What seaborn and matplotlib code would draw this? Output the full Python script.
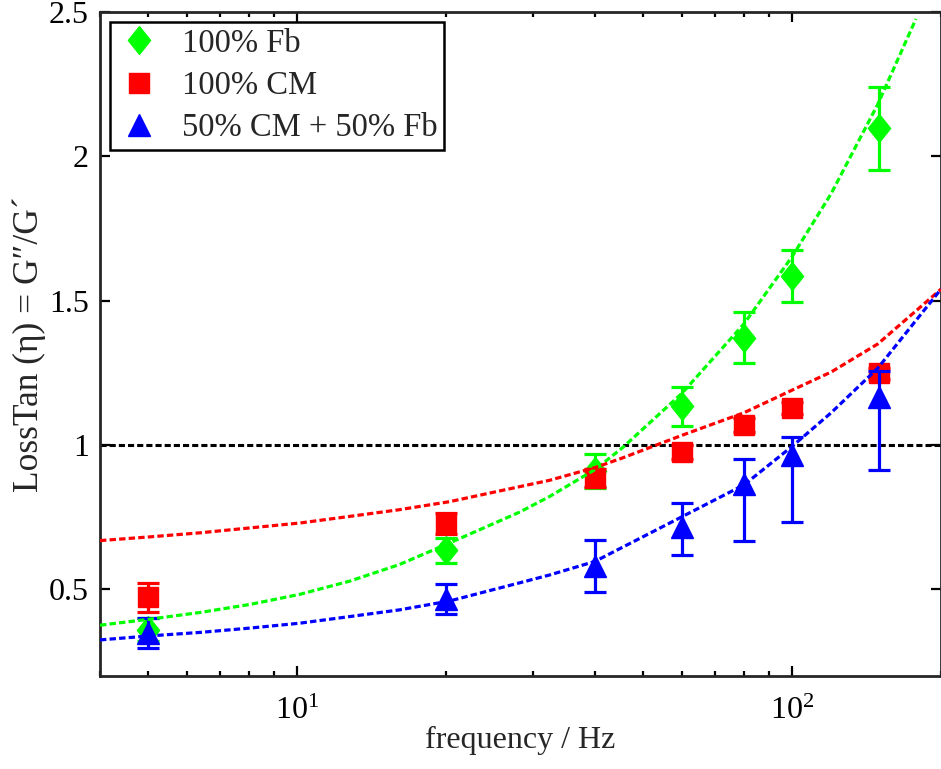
import numpy as np
import pandas as pd
import matplotlib
matplotlib.use("Agg")
import matplotlib.pyplot as plt
import seaborn as sns
from matplotlib.ticker import LogLocator, FixedLocator, NullFormatter

# ---------------- data ----------------
freq = [5, 20, 40, 60, 80, 100, 150]

fb = [0.36, 0.635, 0.91, 1.134, 1.372, 1.586, 2.097]
fb_err = [0.04, 0.042, 0.06, 0.067, 0.088, 0.09, 0.143]

cm = [0.472, 0.728, 0.886, 0.976, 1.069, 1.128, 1.248]
cm_err = [0.05, 0.035, 0.03, 0.025, 0.025, 0.02, 0.02]

mix = [0.35, 0.466, 0.581, 0.717, 0.865, 0.966, 1.165]
mix_err_lo = [0.053, 0.052, 0.091, 0.097, 0.196, 0.232, 0.25]
mix_err_hi = [0.05, 0.052, 0.091, 0.083, 0.087, 0.061, 0.09]

# fitted curves
fit_f_fb = [4.0, 5.05, 6.37, 8.04, 10.14, 12.8, 16.1, 20.35, 28.2, 32.4, 40,
            45.4, 60, 80, 100, 120, 149, 178]
fit_fb = [0.376, 0.397, 0.420, 0.448, 0.483, 0.529, 0.586, 0.661, 0.768, 0.822,
          0.915, 0.99, 1.18, 1.42, 1.652, 1.871, 2.18, 2.476]

fit_f_cm = [4.0, 5.05, 6.37, 8.04, 10.14, 12.8, 16.1, 20.35, 28.2, 32.4, 40,
            45.4, 60, 80, 100, 120, 149, 200]
fit_cm = [0.669, 0.682, 0.696, 0.713, 0.730, 0.753, 0.776, 0.804, 0.856, 0.878,
          0.922, 0.955, 1.034, 1.112, 1.19, 1.253, 1.35, 1.54]

fit_f_mix = [4.0, 5.05, 6.37, 8.04, 10.14, 12.8, 16.1, 20.35, 28.2, 32.4, 40,
             60, 80, 100, 120, 149, 200]
fit_mix = [0.325, 0.339, 0.351, 0.366, 0.383, 0.406, 0.429, 0.460, 0.523, 0.55,
           0.597, 0.752, 0.862, 0.995, 1.112, 1.266, 1.54]

labels = ["100% Fb", "100% CM", "50% CM + 50% Fb"]
colors = ["#00ff00", "#ff0000", "#0000ff"]

# ---------------- style ----------------
sns.set_style("ticks")
plt.rcParams["font.family"] = ["Liberation Serif", "DejaVu Serif"]
plt.rcParams["mathtext.fontset"] = "custom"
plt.rcParams["mathtext.rm"] = "Liberation Serif"
plt.rcParams["mathtext.it"] = "Liberation Serif:italic"
plt.rcParams["mathtext.bf"] = "Liberation Serif:bold"

fig = plt.figure(figsize=(9.41, 7.69), dpi=100)
ax = fig.add_axes([100 / 941, 1 - 676 / 769, 841 / 941, (676 - 12) / 769])

diamond = [(0, 1), (0.8, 0), (0, -1), (-0.8, 0), (0, 1)]
markers = [diamond, "s", "^"]
msizes = [20, 14, 16]

ys = [fb, cm, mix]
errs = [fb_err, cm_err, [mix_err_lo, mix_err_hi]]

DOT = (0, (2, 1))

# reference line at 1
ax.axhline(1.0, color="black", lw=2.2, ls=DOT, zorder=1)

handles = []
for y, e, c, m, s, lab in zip(ys, errs, colors, markers, msizes, labels):
    ax.errorbar(freq, y, yerr=e, fmt="none", ecolor=c, elinewidth=2.3,
                capsize=8, capthick=2.3, zorder=2)
    h, = ax.plot(freq, y, ls="none", marker=m, ms=s, color=c,
                 markeredgecolor=c, label=lab, zorder=2)
    handles.append(h)

df_fb = pd.DataFrame({"f": fit_f_fb, "y": fit_fb})
df_cm = pd.DataFrame({"f": fit_f_cm, "y": fit_cm})
df_mix = pd.DataFrame({"f": fit_f_mix, "y": fit_mix})
for d, c in zip([df_fb, df_cm, df_mix], colors):
    sns.lineplot(data=d, x="f", y="y", ax=ax, color=c, lw=2.3, ls=DOT,
                 zorder=3, legend=False, sort=True)

ax.set_xscale("log")
ax.set_xlim(4, 200)
ax.set_ylim(0.2, 2.5)
ax.set_yticks([0.5, 1, 1.5, 2, 2.5])
ax.set_yticklabels(["0.5", "1", "1.5", "2", "2.5"])
ax.xaxis.set_major_locator(FixedLocator([10, 100]))
ax.set_xticklabels([r"$10^{1}$", r"$10^{2}$"])
ax.xaxis.set_minor_locator(LogLocator(base=10, subs=np.arange(2, 10), numticks=20))
ax.xaxis.set_minor_formatter(NullFormatter())

for sp in ax.spines.values():
    sp.set_linewidth(2.0)
    sp.set_visible(True)
ax.tick_params(which="both", direction="in", top=True, right=True, width=1.6,
               labelsize=23, colors="black")
ax.tick_params(which="major", length=7)
ax.tick_params(axis="y", which="major", pad=8)
ax.tick_params(axis="x", which="major", pad=15)
ax.tick_params(which="minor", length=3.5)

ax.set_xlabel("frequency / Hz", fontsize=23, labelpad=0)
ax.set_ylabel("LossTan (η) = G\u2033/G\u00b4", fontsize=25.5, labelpad=2)

leg = ax.legend(handles=handles, loc="upper left", fontsize=23.5,
                frameon=True, fancybox=False, edgecolor="black",
                borderaxespad=0.3, handlelength=1.4, handletextpad=0.6,
                labelspacing=0.36, borderpad=0.2, numpoints=1)
leg.get_frame().set_linewidth(1.8)
leg.get_frame().set_alpha(1)

fig.savefig("out.png", dpi=100)
